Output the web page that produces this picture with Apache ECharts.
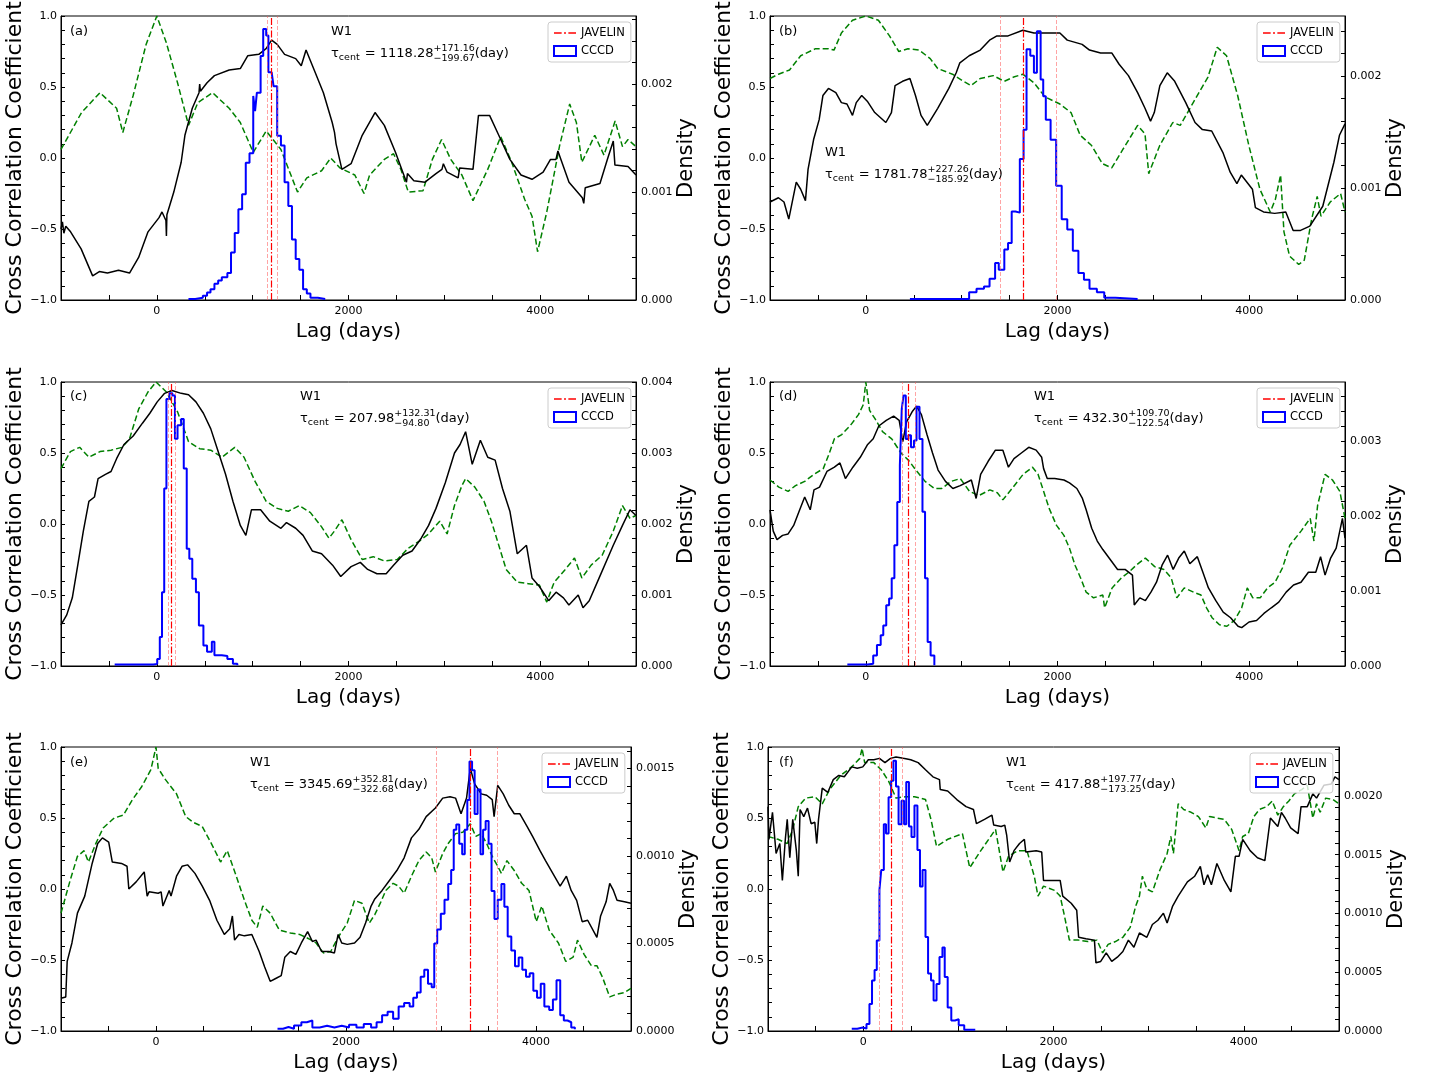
<!DOCTYPE html>
<html><head><meta charset="utf-8">
<script src="https://cdn.jsdelivr.net/npm/echarts/dist/echarts.min.js"></script>
<style>html,body{margin:0;padding:0;background:#fff}#c{width:1434px;height:1083px}</style>
</head><body><div id="c"></div>
<script>
// ---------------- DATA ----------------
const blackA=[[-1000,-0.50],[-985,-0.45],[-970,-0.53],[-950,-0.48],[-900,-0.52],[-790,-0.64],[-670,-0.83],[-600,-0.80],[-515,-0.81],[-400,-0.79],[-285,-0.81],[-190,-0.70],[-92,-0.52],[23,-0.42],[54,-0.38],[95,-0.44],[100,-0.55],[105,-0.40],[177,-0.24],[254,-0.03],[293,0.16],[370,0.35],[440,0.46],[447,0.52],[455,0.47],[524,0.53],[601,0.58],[755,0.62],[871,0.63],[948,0.72],[1064,0.73],[1140,0.77],[1198,0.83],[1256,0.80],[1333,0.73],[1449,0.70],[1507,0.65],[1557,0.76],[1642,0.62],[1738,0.46],[1830,0.25],[1854,0.18],[1870,0.10],[1931,-0.08],[2027,-0.04],[2143,0.16],[2277,0.32],[2374,0.23],[2490,0.04],[2605,-0.17],[2615,-0.11],[2682,-0.16],[2798,-0.17],[2913,-0.11],[2975,-0.08],[2990,-0.04],[3029,-0.10],[3144,-0.14],[3160,-0.07],[3299,-0.08],[3356,0.30],[3472,0.30],[3568,0.16],[3684,-0.01],[3800,-0.12],[3915,-0.15],[4031,-0.10],[4108,-0.01],[4165,-0.01],[4185,0.05],[4301,-0.17],[4440,-0.28],[4455,-0.32],[4470,-0.21],[4624,-0.18],[4701,-0.01],[4763,0.12],[4780,-0.05],[4917,-0.06],[5000,-0.12]];
const greenA=[[-1000,0.06],[-786,0.32],[-593,0.46],[-420,0.35],[-355,0.18],[-247,0.44],[-112,0.80],[0,1.0],[100,0.81],[216,0.53],[331,0.23],[428,0.39],[582,0.46],[755,0.35],[871,0.25],[1006,0.04],[1141,0.19],[1295,0.06],[1468,-0.24],[1565,-0.14],[1719,-0.09],[1815,0.00],[1911,-0.07],[2066,-0.12],[2162,-0.25],[2220,-0.12],[2374,-0.01],[2470,0.03],[2547,-0.08],[2624,-0.24],[2778,-0.23],[2875,-0.01],[2971,0.13],[3067,-0.01],[3183,-0.12],[3299,-0.30],[3453,-0.08],[3588,0.15],[3703,-0.03],[3838,-0.29],[3915,-0.41],[3973,-0.66],[4069,-0.38],[4204,0.09],[4308,0.38],[4378,0.25],[4435,-0.03],[4570,0.16],[4666,0.02],[4782,0.26],[4859,0.08],[4917,0.13],[5000,0.08]];
const histA=[[330,0.00001],[400,0.00002],[480,0.00004],[524,0.00007],[560,0.00010],[601,0.00015],[640,0.00018],[678,0.00021],[736,0.00025],[774,0.00044],[813,0.00062],[851,0.00084],[890,0.00098],[928,0.00127],[967,0.00136],[1006,0.00189],[1025,0.00175],[1044,0.00192],[1083,0.00226],[1110,0.00251],[1141,0.00245],[1164,0.00211],[1198,0.00212],[1218,0.00198],[1256,0.00152],[1295,0.00143],[1333,0.00109],[1372,0.00087],[1410,0.00056],[1449,0.00038],[1487,0.00028],[1526,0.00010],[1565,0.00006],[1603,0.00002],[1680,0.00001],[1757,0.00001]];
const javA=[1148,1198,1256];
const tauA=['1118.28','171.16','199.67'];

const blackB=[[-1000,-0.31],[-912,-0.28],[-854,-0.31],[-804,-0.43],[-726,-0.17],[-680,-0.22],[-630,-0.30],[-603,-0.08],[-545,0.13],[-487,0.27],[-448,0.44],[-390,0.49],[-313,0.46],[-255,0.39],[-197,0.38],[-139,0.30],[-100,0.39],[-43,0.44],[15,0.40],[93,0.32],[209,0.25],[267,0.32],[305,0.51],[383,0.54],[460,0.56],[518,0.44],[576,0.30],[641,0.23],[750,0.35],[866,0.49],[943,0.60],[981,0.67],[1078,0.72],[1194,0.76],[1291,0.83],[1368,0.86],[1484,0.86],[1638,0.90],[1754,0.88],[1870,0.88],[2025,0.88],[2102,0.83],[2257,0.80],[2334,0.76],[2450,0.74],[2566,0.74],[2643,0.66],[2740,0.58],[2836,0.46],[2913,0.35],[2971,0.26],[3010,0.32],[3068,0.51],[3145,0.60],[3223,0.54],[3338,0.39],[3435,0.25],[3512,0.20],[3609,0.19],[3725,0.04],[3802,-0.10],[3872,-0.18],[3918,-0.12],[4034,-0.22],[4065,-0.35],[4150,-0.38],[4266,-0.39],[4382,-0.38],[4459,-0.51],[4536,-0.51],[4633,-0.48],[4768,-0.34],[4884,-0.03],[4942,0.16],[5000,0.24]];
const greenB=[[-1000,0.56],[-912,0.59],[-796,0.62],[-680,0.72],[-525,0.77],[-390,0.77],[-332,0.76],[-255,0.88],[-139,0.97],[0,1.0],[131,0.97],[247,0.86],[344,0.75],[440,0.77],[556,0.76],[672,0.70],[750,0.63],[904,0.59],[1020,0.54],[1097,0.51],[1194,0.56],[1329,0.58],[1445,0.54],[1542,0.57],[1638,0.59],[1754,0.53],[1870,0.43],[2025,0.38],[2141,0.32],[2237,0.16],[2353,0.09],[2469,-0.04],[2566,-0.07],[2682,0.06],[2836,0.23],[2913,0.17],[2952,-0.11],[3068,0.09],[3203,0.25],[3281,0.23],[3416,0.39],[3570,0.57],[3667,0.78],[3764,0.72],[3880,0.44],[3996,0.09],[4112,-0.22],[4220,-0.38],[4274,-0.29],[4328,-0.12],[4363,-0.52],[4421,-0.69],[4517,-0.75],[4575,-0.72],[4652,-0.43],[4710,-0.27],[4749,-0.41],[4846,-0.31],[4954,-0.25],[5000,-0.38]];
const histB=[[460,0.00001],[700,0.00001],[1020,0.00001],[1078,0.00007],[1155,0.00010],[1233,0.00012],[1291,0.00019],[1349,0.00033],[1387,0.00027],[1445,0.00045],[1484,0.00051],[1522,0.00079],[1561,0.00078],[1607,0.00126],[1646,0.00152],[1677,0.00224],[1716,0.00218],[1754,0.00203],[1785,0.00240],[1824,0.00197],[1851,0.00182],[1878,0.00161],[1928,0.00143],[1986,0.00102],[2044,0.00072],[2102,0.00063],[2160,0.00044],[2218,0.00024],[2276,0.00018],[2334,0.00010],[2411,0.00007],[2488,0.00002],[2604,0.00001],[2836,0.00001]];
const javB=[1399,1638,1986];
const tauB=['1781.78','227.26','185.92'];

const blackC=[[-1000,-0.71],[-940,-0.64],[-882,-0.52],[-825,-0.29],[-767,-0.05],[-709,0.16],[-651,0.19],[-613,0.32],[-536,0.35],[-478,0.37],[-420,0.46],[-343,0.56],[-247,0.62],[-150,0.71],[-73,0.78],[4,0.86],[81,0.92],[158,0.94],[254,0.92],[331,0.91],[408,0.86],[486,0.78],[563,0.67],[640,0.51],[717,0.35],[794,0.16],[871,-0.01],[929,-0.08],[987,0.10],[1083,0.10],[1179,0.02],[1295,-0.03],[1353,0.01],[1449,-0.03],[1526,-0.08],[1622,-0.19],[1719,-0.21],[1834,-0.29],[1919,-0.37],[2027,-0.30],[2123,-0.27],[2200,-0.32],[2297,-0.35],[2393,-0.35],[2470,-0.29],[2566,-0.22],[2663,-0.19],[2759,-0.10],[2836,-0.01],[2913,0.11],[3010,0.29],[3106,0.50],[3164,0.56],[3222,0.65],[3291,0.42],[3376,0.59],[3453,0.47],[3530,0.45],[3607,0.25],[3684,0.09],[3761,-0.21],[3857,-0.15],[3915,-0.38],[3992,-0.44],[4089,-0.54],[4166,-0.48],[4243,-0.52],[4300,-0.57],[4397,-0.50],[4447,-0.59],[4512,-0.54],[4628,-0.36],[4763,-0.15],[4859,-0.01],[4937,0.10],[5000,0.06]];
const greenC=[[-1000,0.39],[-902,0.51],[-805,0.54],[-709,0.47],[-593,0.51],[-478,0.52],[-362,0.54],[-285,0.60],[-189,0.81],[-92,0.93],[-8,1.0],[100,0.93],[216,0.79],[331,0.58],[447,0.53],[563,0.52],[679,0.47],[813,0.54],[910,0.47],[1025,0.30],[1141,0.16],[1256,0.11],[1372,0.09],[1487,0.13],[1603,0.08],[1719,-0.02],[1796,-0.10],[1853,-0.05],[1931,0.03],[2027,-0.11],[2143,-0.25],[2258,-0.23],[2374,-0.26],[2509,-0.25],[2624,-0.17],[2740,-0.12],[2836,-0.07],[2952,0.02],[3029,-0.07],[3106,0.13],[3183,0.27],[3222,0.32],[3318,0.26],[3414,0.16],[3491,0.02],[3568,-0.15],[3645,-0.32],[3761,-0.41],[3877,-0.42],[3992,-0.43],[4069,-0.55],[4146,-0.41],[4262,-0.32],[4358,-0.24],[4435,-0.38],[4532,-0.29],[4647,-0.22],[4763,-0.05],[4859,0.13],[4937,0.04],[5000,0.06]];
const histC=[[-440,0.00002],[-200,0.00002],[-35,0.00003],[4,0.00010],[31,0.00041],[54,0.00104],[77,0.0025],[100,0.00376],[131,0.00384],[162,0.00381],[189,0.0032],[216,0.00339],[254,0.00348],[281,0.00278],[312,0.00165],[339,0.00151],[370,0.00123],[408,0.00104],[439,0.00057],[486,0.00029],[524,0.0002],[574,0.00034],[601,0.00015],[678,0.00014],[736,0.0001],[794,0.00003],[840,0.00001]];
const javC=[119,146,193];
const tauC=['207.98','132.31','94.80'];

const blackD=[[-1000,0.10],[-966,-0.05],[-927,-0.11],[-869,-0.08],[-811,-0.07],[-753,-0.01],[-696,0.09],[-638,0.19],[-580,0.10],[-541,0.24],[-483,0.26],[-406,0.37],[-328,0.40],[-270,0.43],[-213,0.32],[-135,0.40],[-58,0.47],[19,0.56],[77,0.60],[135,0.69],[213,0.73],[290,0.76],[348,0.73],[386,0.58],[425,0.72],[483,0.79],[529,0.83],[580,0.77],[638,0.63],[696,0.50],[754,0.38],[831,0.30],[908,0.25],[985,0.27],[1101,0.31],[1151,0.18],[1198,0.35],[1275,0.44],[1352,0.52],[1430,0.52],[1488,0.40],[1546,0.46],[1623,0.50],[1700,0.54],[1777,0.52],[1835,0.47],[1855,0.39],[1893,0.32],[1971,0.32],[2067,0.31],[2125,0.29],[2202,0.25],[2260,0.18],[2299,0.10],[2357,-0.03],[2415,-0.12],[2473,-0.18],[2550,-0.25],[2627,-0.32],[2705,-0.32],[2782,-0.36],[2801,-0.57],[2859,-0.52],[2917,-0.54],[2975,-0.48],[3033,-0.41],[3091,-0.29],[3149,-0.22],[3207,-0.32],[3265,-0.24],[3323,-0.19],[3381,-0.28],[3459,-0.23],[3517,-0.34],[3575,-0.45],[3652,-0.54],[3729,-0.62],[3806,-0.66],[3884,-0.72],[3922,-0.73],[3999,-0.69],[4077,-0.68],[4154,-0.63],[4231,-0.59],[4309,-0.55],[4386,-0.48],[4463,-0.43],[4541,-0.41],[4618,-0.34],[4695,-0.34],[4745,-0.23],[4792,-0.36],[4850,-0.24],[4908,-0.17],[4958,-0.01],[4973,0.04],[5000,-0.10]];
const greenD=[[-1000,0.31],[-908,0.26],[-811,0.23],[-734,0.27],[-638,0.30],[-541,0.35],[-444,0.39],[-386,0.49],[-328,0.60],[-251,0.63],[-155,0.70],[-77,0.77],[-27,0.84],[0,1.0],[39,0.80],[97,0.74],[174,0.65],[270,0.60],[367,0.50],[444,0.45],[522,0.38],[618,0.30],[715,0.25],[792,0.25],[889,0.30],[985,0.32],[1082,0.23],[1178,0.20],[1294,0.24],[1372,0.22],[1430,0.17],[1526,0.25],[1642,0.35],[1739,0.40],[1797,0.35],[1855,0.23],[1913,0.11],[1990,-0.01],[2067,-0.08],[2125,-0.17],[2183,-0.29],[2241,-0.38],[2299,-0.48],[2376,-0.52],[2473,-0.50],[2492,-0.59],[2570,-0.45],[2666,-0.38],[2743,-0.34],[2821,-0.29],[2917,-0.24],[3014,-0.30],[3110,-0.32],[3187,-0.38],[3245,-0.52],[3323,-0.45],[3420,-0.48],[3497,-0.50],[3555,-0.59],[3613,-0.66],[3690,-0.71],[3768,-0.72],[3845,-0.68],[3922,-0.59],[3980,-0.45],[4038,-0.52],[4115,-0.52],[4192,-0.45],[4270,-0.41],[4347,-0.31],[4424,-0.15],[4541,-0.05],[4637,0.04],[4676,-0.12],[4714,0.13],[4792,0.35],[4869,0.31],[4946,0.23],[5000,0.04]];
const histD=[[-193,0.00002],[19,0.00003],[77,0.00014],[116,0.00028],[155,0.00041],[182,0.00054],[213,0.00081],[243,0.0009],[270,0.00117],[298,0.00161],[328,0.00219],[355,0.00268],[375,0.00343],[394,0.00361],[417,0.00303],[444,0.00308],[471,0.00292],[502,0.00301],[529,0.00346],[560,0.00303],[591,0.00206],[618,0.00117],[645,0.00032],[676,0.00014],[715,0.00001]];
const javD=[375,444,514];
const tauD=['432.30','109.70','122.54'];

const blackE=[[-1000,-0.77],[-950,-0.76],[-935,-0.51],[-885,-0.38],[-827,-0.17],[-750,-0.05],[-672,0.18],[-614,0.32],[-564,0.36],[-498,0.33],[-460,0.19],[-363,0.18],[-305,0.16],[-286,0.00],[-209,0.05],[-124,0.12],[-93,-0.05],[-73,-0.02],[23,-0.03],[54,-0.02],[73,-0.12],[139,-0.01],[158,-0.05],[216,0.09],[274,0.16],[332,0.17],[410,0.11],[487,0.02],[564,-0.08],[641,-0.22],[719,-0.32],[777,-0.28],[804,-0.19],[827,-0.36],[873,-0.32],[931,-0.33],[1009,-0.32],[1086,-0.44],[1144,-0.55],[1202,-0.65],[1260,-0.63],[1318,-0.61],[1356,-0.48],[1414,-0.44],[1472,-0.46],[1530,-0.38],[1596,-0.30],[1646,-0.37],[1685,-0.36],[1743,-0.44],[1820,-0.44],[1878,-0.45],[1917,-0.32],[1955,-0.38],[2013,-0.39],[2090,-0.38],[2148,-0.34],[2206,-0.24],[2264,-0.12],[2303,-0.07],[2380,-0.01],[2457,0.06],[2535,0.13],[2612,0.22],[2689,0.36],[2767,0.42],[2844,0.51],[2941,0.57],[3018,0.64],[3095,0.65],[3153,0.64],[3211,0.53],[3269,0.64],[3308,0.85],[3354,0.74],[3423,0.67],[3481,0.66],[3539,0.63],[3559,0.51],[3597,0.73],[3655,0.67],[3713,0.59],[3771,0.53],[3829,0.53],[3907,0.44],[3964,0.37],[4042,0.27],[4100,0.20],[4177,0.11],[4254,0.02],[4320,0.09],[4370,-0.01],[4428,-0.08],[4486,-0.23],[4544,-0.22],[4641,-0.34],[4680,-0.19],[4738,-0.09],[4776,0.04],[4815,-0.01],[4853,-0.08],[4931,-0.09],[5000,-0.10]];
const greenE=[[-1000,-0.17],[-904,0.06],[-827,0.23],[-757,0.27],[-711,0.19],[-634,0.32],[-556,0.43],[-440,0.50],[-344,0.52],[-247,0.63],[-151,0.72],[-54,0.84],[0,1.0],[23,0.85],[100,0.77],[216,0.67],[313,0.51],[390,0.47],[487,0.44],[583,0.32],[680,0.19],[750,0.27],[835,0.11],[931,-0.08],[1009,-0.22],[1066,-0.27],[1124,-0.12],[1202,-0.17],[1298,-0.29],[1414,-0.31],[1511,-0.32],[1607,-0.35],[1685,-0.38],[1762,-0.45],[1839,-0.44],[1917,-0.34],[2013,-0.24],[2090,-0.08],[2168,-0.10],[2245,-0.24],[2303,-0.18],[2361,-0.10],[2419,-0.01],[2496,0.04],[2554,0.02],[2612,-0.03],[2689,0.09],[2767,0.20],[2844,0.26],[2902,0.22],[2941,0.12],[3018,0.25],[3076,0.32],[3153,0.39],[3230,0.40],[3308,0.46],[3366,0.37],[3423,0.39],[3481,0.32],[3539,0.23],[3597,0.16],[3636,0.11],[3694,0.20],[3771,0.13],[3849,0.04],[3926,-0.01],[4003,-0.23],[4061,-0.12],[4139,-0.29],[4236,-0.38],[4313,-0.51],[4391,-0.48],[4437,-0.36],[4506,-0.46],[4583,-0.54],[4641,-0.54],[4699,-0.62],[4776,-0.76],[4853,-0.74],[4931,-0.73],[5000,-0.70]];
const histE=[[1279,0.000013],[1337,0.000023],[1395,0.000013],[1453,0.000032],[1530,0.00005],[1588,0.00006],[1646,0.00002],[1723,0.00003],[1801,0.00002],[1878,0.00003],[1955,0.00002],[2032,0.000036],[2110,0.00002],[2187,0.00004],[2264,0.00002],[2322,0.00005],[2380,0.00009],[2438,0.00011],[2496,0.00007],[2554,0.00014],[2612,0.00016],[2670,0.00014],[2708,0.00019],[2747,0.00022],[2786,0.00031],[2824,0.00035],[2863,0.00027],[2902,0.00025],[2929,0.0005],[2960,0.00058],[2998,0.00067],[3037,0.00075],[3076,0.00084],[3107,0.00092],[3134,0.00115],[3161,0.00118],[3192,0.00107],[3223,0.00101],[3250,0.00115],[3277,0.00132],[3300,0.00154],[3327,0.00149],[3354,0.00124],[3385,0.00138],[3416,0.00101],[3443,0.00115],[3470,0.0012],[3501,0.00107],[3532,0.0008],[3563,0.00064],[3597,0.00075],[3636,0.00084],[3667,0.00071],[3702,0.00054],[3740,0.00046],[3779,0.00037],[3818,0.00042],[3856,0.00035],[3895,0.00031],[3934,0.00033],[3972,0.00023],[4011,0.00019],[4050,0.00027],[4088,0.00014],[4139,0.00012],[4178,0.00018],[4216,0.00029],[4255,0.00009],[4293,0.00006],[4332,0.00005],[4371,0.00002],[4409,0.00001]];
const javE=[2948,3308,3597];
const tauE=['3345.69','352.81','322.68'];

const blackF=[[-1000,0.58],[-990,0.35],[-953,0.54],[-915,0.25],[-876,0.32],[-849,0.06],[-818,0.35],[-798,0.49],[-771,0.22],[-740,0.49],[-702,0.27],[-682,0.09],[-663,0.56],[-624,0.51],[-585,0.57],[-547,0.46],[-508,0.47],[-488,0.32],[-469,0.49],[-430,0.71],[-372,0.68],[-314,0.77],[-256,0.80],[-198,0.79],[-120,0.86],[-62,0.85],[-4,0.86],[54,0.91],[112,0.91],[171,0.92],[229,0.89],[287,0.92],[345,0.93],[422,0.92],[500,0.91],[578,0.89],[655,0.84],[733,0.79],[802,0.77],[810,0.70],[888,0.69],[984,0.63],[1081,0.58],[1159,0.56],[1190,0.46],[1275,0.49],[1353,0.52],[1372,0.45],[1450,0.44],[1488,0.45],[1508,0.38],[1539,0.19],[1585,0.27],[1643,0.32],[1694,0.35],[1709,0.26],[1818,0.27],[1876,0.26],[1895,0.06],[1992,0.06],[2070,0.06],[2097,-0.05],[2186,-0.10],[2244,-0.15],[2264,-0.34],[2341,-0.35],[2430,-0.36],[2446,-0.52],[2496,-0.51],[2554,-0.45],[2612,-0.51],[2671,-0.48],[2729,-0.44],[2787,-0.36],[2845,-0.41],[2903,-0.31],[2981,-0.34],[3039,-0.25],[3097,-0.22],[3155,-0.17],[3194,-0.24],[3252,-0.12],[3310,-0.05],[3349,-0.01],[3407,0.05],[3484,0.09],[3543,0.16],[3581,0.03],[3620,0.10],[3659,0.03],[3717,0.18],[3795,0.06],[3864,-0.02],[3911,0.23],[3950,0.23],[3988,0.35],[4066,0.27],[4143,0.22],[4221,0.20],[4279,0.50],[4357,0.44],[4395,0.54],[4434,0.50],[4492,0.43],[4570,0.39],[4601,0.58],[4667,0.58],[4725,0.67],[4764,0.64],[4841,0.73],[4919,0.74],[4957,0.79],[5000,0.77]];
const greenF=[[-1000,0.37],[-895,0.35],[-798,0.32],[-740,0.42],[-682,0.58],[-605,0.64],[-508,0.65],[-430,0.60],[-353,0.70],[-236,0.80],[-120,0.86],[-35,0.92],[-12,0.99],[16,0.89],[112,0.89],[190,0.84],[267,0.76],[345,0.64],[442,0.65],[539,0.65],[655,0.63],[713,0.49],[771,0.30],[888,0.35],[1043,0.39],[1120,0.15],[1236,0.27],[1391,0.42],[1469,0.12],[1527,0.23],[1624,0.27],[1721,0.27],[1798,0.09],[1837,-0.05],[1895,0.02],[2012,-0.01],[2070,-0.05],[2109,-0.17],[2167,-0.36],[2264,-0.36],[2360,-0.37],[2457,-0.36],[2516,-0.45],[2574,-0.39],[2651,-0.37],[2729,-0.34],[2806,-0.27],[2864,-0.12],[2903,-0.05],[2934,0.09],[2981,0.00],[3039,-0.02],[3116,0.13],[3194,0.25],[3233,0.37],[3260,0.25],[3310,0.60],[3368,0.56],[3446,0.54],[3523,0.51],[3601,0.43],[3640,0.51],[3717,0.50],[3795,0.49],[3872,0.42],[3950,0.27],[3988,0.37],[4047,0.39],[4105,0.51],[4163,0.56],[4240,0.58],[4298,0.62],[4357,0.52],[4415,0.58],[4473,0.62],[4531,0.67],[4608,0.70],[4667,0.73],[4725,0.50],[4764,0.60],[4802,0.54],[4860,0.64],[4938,0.63],[5000,0.60]];
const histF=[[-120,0.00002],[-62,0.00003],[-4,0.00002],[35,0.00006],[66,0.00023],[93,0.00043],[120,0.00052],[143,0.00077],[171,0.0012],[190,0.00137],[217,0.00176],[240,0.00168],[267,0.00199],[294,0.00213],[318,0.0023],[345,0.00208],[372,0.00176],[403,0.00196],[430,0.00176],[453,0.00212],[481,0.00174],[508,0.00165],[539,0.00192],[570,0.00154],[597,0.00123],[624,0.00137],[655,0.0008],[682,0.00049],[713,0.00043],[740,0.00026],[771,0.0004],[802,0.00063],[833,0.00071],[857,0.00046],[888,0.0002],[926,0.00009],[965,0.0001],[1004,0.00005],[1062,0.00001],[1178,0.00001]];
const javF=[171,295,415];
const tauF=['417.88','197.77','173.25'];

const panelLabels=['(a)','(b)','(c)','(d)','(e)','(f)'];
const xTickLabels=[0,2000,4000];

// ---------------- LAYOUT ----------------
const layout=[
 {grid:[61,16,575,284], dmax:0.00263, dstep:0.0002, dmajor:0.001, dec:3, showMax:false, lab:[70,32], w1:[331,32], tau:[331,54], leg:[548,22]},
 {grid:[770,16,575,284], dmax:0.002536, dstep:0.0002, dmajor:0.001, dec:3, showMax:false, lab:[779,32], w1:[825,153], tau:[825,175], leg:[1257,22]},
 {grid:[61,382,575,284], dmax:0.004, dstep:0.0002, dmajor:0.001, dec:3, showMax:true, lab:[70,397], w1:[300,397], tau:[300,419], leg:[548,388]},
 {grid:[770,382,575,284], dmax:0.00379, dstep:0.0002, dmajor:0.001, dec:3, showMax:false, lab:[779,397], w1:[1034,397], tau:[1034,419], leg:[1257,388]},
 {grid:[61,747,570,284], dmax:0.001623, dstep:0.0001, dmajor:0.0005, dec:4, showMax:false, lab:[70,763], w1:[250,763], tau:[250,785], leg:[542,753]},
 {grid:[768,747,571,284], dmax:0.002417, dstep:0.0001, dmajor:0.0005, dec:4, showMax:false, lab:[779,763], w1:[1006,763], tau:[1006,785], leg:[1250,753]}
];
const DATA=[
 {black:blackA, green:greenA, hist:histA, jav:javA, tau:tauA},
 {black:blackB, green:greenB, hist:histB, jav:javB, tau:tauB},
 {black:blackC, green:greenC, hist:histC, jav:javC, tau:tauC},
 {black:blackD, green:greenD, hist:histD, jav:javD, tau:tauD},
 {black:blackE, green:greenE, hist:histE, jav:javE, tau:tauE},
 {black:blackF, green:greenF, hist:histF, jav:javF, tau:tauF}
];

const F='DejaVu Sans';
const mctx=document.createElement('canvas').getContext('2d');
function tw(t,s){mctx.font=s+'px "'+F+'"';return mctx.measureText(t).width;}
function txt(x,y,t,s){return {type:'text',x:x,y:y,silent:true,z:100,style:{text:t,fontFamily:F,fontSize:s,fill:'#000',align:'left',verticalAlign:'middle'}};}
function tauEls(x,y,t){
  const S=13,s=9.5,els=[];let cx=x;
  els.push(txt(cx,y,'τ',S));cx+=tw('τ',S);
  els.push(txt(cx,y+4,'cent',s));cx+=tw('cent',s)+1;
  const mid=' = '+t[0];els.push(txt(cx,y,mid,S));cx+=tw(mid,S);
  const p='+'+t[1],m='−'+t[2];
  els.push(txt(cx,y-5,p,s));els.push(txt(cx,y+5,m,s));cx+=Math.max(tw(p,s),tw(m,s));
  els.push(txt(cx,y,'(day)',S));
  return els;
}
const JAV_ICON='path://M0,0H8V1.4H0Z M10.5,0H12.5V1.4H10.5Z M15,0H23V1.4H15Z';

const grids=[],xAxes=[],yAxes=[],series=[],legends=[],gfx=[];
layout.forEach((L,i)=>{
  const D=DATA[i];
  grids.push({left:L.grid[0],top:L.grid[1],width:L.grid[2],height:L.grid[3],show:true,borderColor:'#000',borderWidth:1,backgroundColor:'transparent',containLabel:false,outerBoundsMode:'none'});
  xAxes.push({type:'value',gridIndex:i,min:-1000,max:5000,interval:500,
    name:'Lag (days)',nameLocation:'middle',nameGap:22,nameTextStyle:{fontFamily:F,fontSize:20,color:'#000'},
    axisLine:{show:true,onZero:false,lineStyle:{color:'#000',width:1}},
    axisTick:{show:true,inside:true,length:5,lineStyle:{color:'#000',width:1}},
    axisLabel:{show:true,color:'#000',fontFamily:F,fontSize:11,margin:6,
      formatter:v=>xTickLabels.indexOf(Math.round(v))>=0?String(Math.round(v)):''},
    splitLine:{show:false}});
  yAxes.push({type:'value',gridIndex:i,position:'left',min:-1,max:1,interval:0.1,
    name:'Cross Correlation Coefficient',nameLocation:'middle',nameGap:35,nameRotate:90,
    nameTextStyle:{fontFamily:F,fontSize:22,color:'#000'},
    axisLine:{show:true,onZero:false,lineStyle:{color:'#000',width:1}},
    axisTick:{show:true,inside:true,length:4,lineStyle:{color:'#000',width:1}},
    axisLabel:{show:true,color:'#000',fontFamily:F,fontSize:11,margin:4,
      formatter:v=>{const r=Math.round(v*2)/2;if(Math.abs(v-r)>1e-6)return '';return (r<0?'−':'')+Math.abs(r).toFixed(1);}},
    splitLine:{show:false}});
  yAxes.push({type:'value',gridIndex:i,position:'right',min:0,max:L.dmax,interval:L.dstep,
    name:'Density',nameLocation:'middle',nameGap:39,nameRotate:90,
    nameTextStyle:{fontFamily:F,fontSize:21,color:'#000'},
    axisLine:{show:true,onZero:false,lineStyle:{color:'#000',width:1}},
    axisTick:{show:true,inside:true,length:4,lineStyle:{color:'#000',width:1}},
    axisLabel:{show:true,color:'#000',fontFamily:F,fontSize:11,margin:5,showMaxLabel:L.showMax,showMinLabel:true,
      formatter:v=>{const k=v/L.dmajor;if(Math.abs(k-Math.round(k))>1e-6)return '';return (Math.round(k)*L.dmajor).toFixed(L.dec);}},
    splitLine:{show:false}});
  series.push({type:'line',xAxisIndex:i,yAxisIndex:2*i,data:D.green,symbol:'none',silent:true,z:2,
    lineStyle:{color:'#008000',width:1.5,type:[6,3]}});
  series.push({type:'line',xAxisIndex:i,yAxisIndex:2*i,data:D.black,symbol:'none',silent:true,z:3,
    lineStyle:{color:'#000000',width:1.5}});
  series.push({name:'CCCD',type:'line',step:'end',xAxisIndex:i,yAxisIndex:2*i+1,data:D.hist,symbol:'none',silent:true,z:4,
    itemStyle:{color:'#0000ff'},lineStyle:{color:'#0000ff',width:2}});
  series.push({name:'JAVELIN',type:'line',xAxisIndex:i,yAxisIndex:2*i,data:[],symbol:'none',silent:true,z:5,
    itemStyle:{color:'#ff0000'},lineStyle:{color:'#ff0000'},
    markLine:{silent:true,symbol:['none','none'],label:{show:false},animation:false,
      data:[
        {xAxis:D.jav[0],lineStyle:{color:'rgba(255,90,90,0.55)',width:1,type:[4,2]}},
        {xAxis:D.jav[2],lineStyle:{color:'rgba(255,90,90,0.55)',width:1,type:[4,2]}},
        {xAxis:D.jav[1],lineStyle:{color:'#ff0000',width:1.2,type:[7,2,1.5,2]}}
      ]}});
  legends.push({show:true,left:L.leg[0],top:L.leg[1],orient:'vertical',itemWidth:22,itemHeight:10,itemGap:6,
    padding:[5,6,5,5],backgroundColor:'rgba(255,255,255,0.8)',borderColor:'#cccccc',borderWidth:1,borderRadius:3,
    selectedMode:false,textStyle:{fontFamily:F,fontSize:11.5,color:'#000'},
    data:[{name:'JAVELIN',icon:JAV_ICON,itemStyle:{color:'#ff0000',borderWidth:0}},
          {name:'CCCD',icon:'rect',itemStyle:{color:'rgba(255,255,255,0)',borderColor:'#0000ff',borderWidth:2}}]});
  gfx.push(txt(L.lab[0],L.lab[1],panelLabels[i],13));
  gfx.push(txt(L.w1[0],L.w1[1],'W1',13));
  tauEls(L.tau[0],L.tau[1],D.tau).forEach(e=>gfx.push(e));
});

const chart=echarts.init(document.getElementById('c'),null,{renderer:'canvas',width:1434,height:1083});
chart.setOption({animation:false,backgroundColor:'#fff',grid:grids,xAxis:xAxes,yAxis:yAxes,series:series,legend:legends,graphic:{elements:gfx}});
</script></body></html>
